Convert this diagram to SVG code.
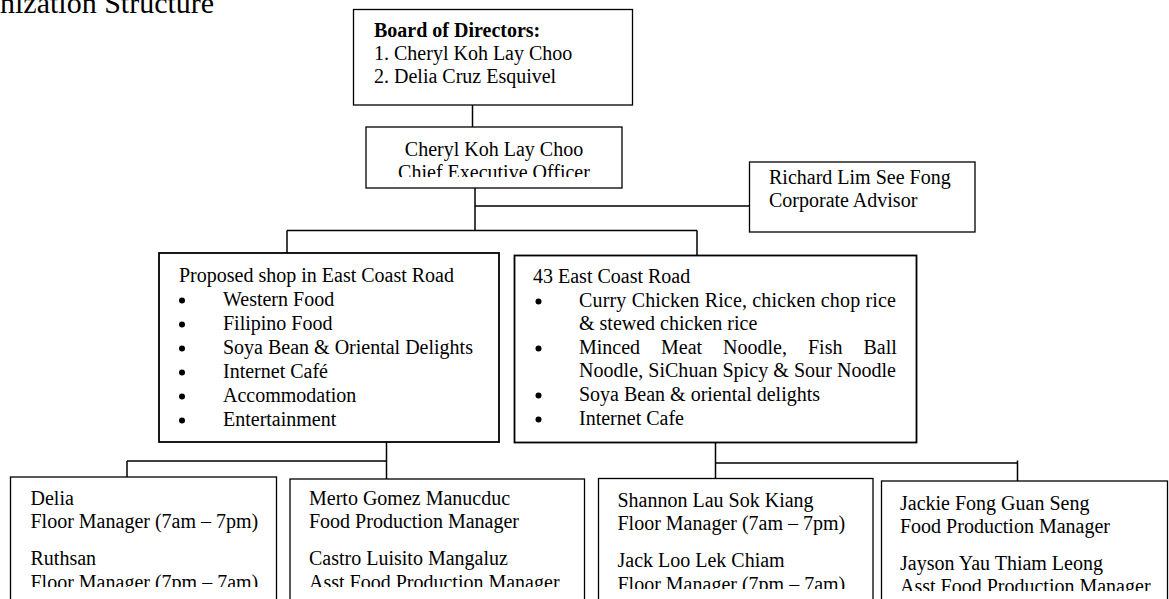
<svg xmlns="http://www.w3.org/2000/svg" width="1169" height="599" viewBox="0 0 1169 599">
<style>
  .t { font-family: "Liberation Serif", "Times New Roman", serif; font-size: 20px; fill: #000; }
  .b { font-weight: bold; }
  .box { fill: #fff; stroke: #000; stroke-width: 1.3; }
  .shop { fill: #fff; stroke: #000; stroke-width: 1.8; }
  .con { fill: none; stroke: #000; stroke-width: 1.5; }
  .bul { fill: #000; }
</style>
<defs>
  <clipPath id="clipCeo"><rect x="366" y="127" width="256" height="50"/></clipPath>
  <clipPath id="clipL"><rect x="0" y="470" width="590" height="117"/></clipPath>
  <clipPath id="clipS"><rect x="590" y="470" width="285" height="119"/></clipPath>
  <clipPath id="clipJ"><rect x="875" y="470" width="294" height="121"/></clipPath>
</defs>
<rect width="1169" height="599" fill="#fff"/>

<text class="t" x="0" y="13" style="font-size:30px">nization Structure</text>

<g id="connectors">
  <path class="con" d="M472.5,105 V127"/>
  <path class="con" d="M475,188 V230.5"/>
  <path class="con" d="M475,206 H749.5"/>
  <path class="con" d="M287,230.5 H697"/>
  <path class="con" d="M287,230.5 V253"/>
  <path class="con" d="M697,230.5 V255.5"/>
  <path class="con" d="M386.5,442 V479"/>
  <path class="con" d="M127,461 H386.5"/>
  <path class="con" d="M127,461 V477"/>
  <path class="con" d="M715.5,442 V478.5"/>
  <path class="con" d="M715.5,463 H1017.5"/>
  <path class="con" d="M1017.5,460.5 V481"/>
</g>

<g id="board">
  <rect class="box" x="353.5" y="9.5" width="279" height="95.5"/>
  <text class="t b" x="374" y="37">Board of Directors:</text>
  <text class="t" x="374" y="60">1. Cheryl Koh Lay Choo</text>
  <text class="t" x="374" y="83">2. Delia Cruz Esquivel</text>
</g>

<g id="ceo">
  <rect class="box" x="366" y="127" width="256" height="61"/>
  <g clip-path="url(#clipCeo)">
    <text class="t" x="494" y="156" text-anchor="middle">Cheryl Koh Lay Choo</text>
    <text class="t" x="494" y="179" text-anchor="middle">Chief Executive Officer</text>
  </g>
</g>

<g id="advisor">
  <rect class="box" x="749.5" y="162" width="225.5" height="70"/>
  <text class="t" x="769" y="184">Richard Lim See Fong</text>
  <text class="t" x="769" y="207">Corporate Advisor</text>
</g>

<g id="proposed-shop">
  <rect class="shop" x="159" y="253" width="340" height="189"/>
  <text class="t" x="179" y="282">Proposed shop in East Coast Road</text>
  <circle class="bul" cx="182" cy="300.5" r="3"/><text class="t" x="223" y="306">Western Food</text>
  <circle class="bul" cx="182" cy="324.5" r="3"/><text class="t" x="223" y="330">Filipino Food</text>
  <circle class="bul" cx="182" cy="348.5" r="3"/><text class="t" x="223" y="354">Soya Bean &amp; Oriental Delights</text>
  <circle class="bul" cx="182" cy="372.5" r="3"/><text class="t" x="223" y="378">Internet Café</text>
  <circle class="bul" cx="182" cy="396.5" r="3"/><text class="t" x="223" y="402">Accommodation</text>
  <circle class="bul" cx="182" cy="420.5" r="3"/><text class="t" x="223" y="426">Entertainment</text>
</g>

<g id="shop-43">
  <rect class="shop" x="514.5" y="255.5" width="402" height="187"/>
  <text class="t" x="533" y="283">43 East Coast Road</text>
  <circle class="bul" cx="538.5" cy="301.5" r="3"/>
  <text class="t" x="579" y="307" textLength="317" lengthAdjust="spacing">Curry Chicken Rice, chicken chop rice</text>
  <text class="t" x="579" y="330">&amp; stewed chicken rice</text>
  <circle class="bul" cx="538.5" cy="348.5" r="3"/>
  <text class="t" y="354"><tspan x="579">Minced</tspan><tspan x="661">Meat</tspan><tspan x="723">Noodle,</tspan><tspan x="808">Fish</tspan><tspan x="863.5">Ball</tspan></text>
  <text class="t" x="579" y="377" textLength="317" lengthAdjust="spacing">Noodle, SiChuan Spicy &amp; Sour Noodle</text>
  <circle class="bul" cx="538.5" cy="395.5" r="3"/>
  <text class="t" x="579" y="401">Soya Bean &amp; oriental delights</text>
  <circle class="bul" cx="538.5" cy="419.5" r="3"/>
  <text class="t" x="579" y="425">Internet Cafe</text>
</g>

<g id="floor-left">
  <rect class="box" x="10.5" y="477" width="266" height="140"/>
  <g clip-path="url(#clipL)">
    <text class="t" x="30.5" y="505">Delia</text>
    <text class="t" x="30.5" y="528">Floor Manager (7am – 7pm)</text>
    <text class="t" x="30.5" y="565">Ruthsan</text>
    <text class="t" x="30.5" y="588.5">Floor Manager (7pm – 7am)</text>
  </g>
</g>

<g id="food-left">
  <rect class="box" x="290" y="479" width="294.5" height="140"/>
  <g clip-path="url(#clipL)">
    <text class="t" x="309" y="505">Merto Gomez Manucduc</text>
    <text class="t" x="309" y="528">Food Production Manager</text>
    <text class="t" x="309" y="565">Castro Luisito Mangaluz</text>
    <text class="t" x="309" y="588.5">Asst Food Production Manager</text>
  </g>
</g>

<g id="floor-right">
  <rect class="box" x="598.5" y="478.5" width="274.5" height="140"/>
  <g clip-path="url(#clipS)">
    <text class="t" x="617.5" y="507">Shannon Lau Sok Kiang</text>
    <text class="t" x="617.5" y="530">Floor Manager (7am – 7pm)</text>
    <text class="t" x="617.5" y="567">Jack Loo Lek Chiam</text>
    <text class="t" x="617.5" y="590.5">Floor Manager (7pm – 7am)</text>
  </g>
</g>

<g id="food-right">
  <rect class="box" x="881.5" y="481" width="286" height="140"/>
  <g clip-path="url(#clipJ)">
    <text class="t" x="900" y="510">Jackie Fong Guan Seng</text>
    <text class="t" x="900" y="533">Food Production Manager</text>
    <text class="t" x="900" y="570">Jayson Yau Thiam Leong</text>
    <text class="t" x="900" y="593">Asst Food Production Manager</text>
  </g>
</g>
</svg>
